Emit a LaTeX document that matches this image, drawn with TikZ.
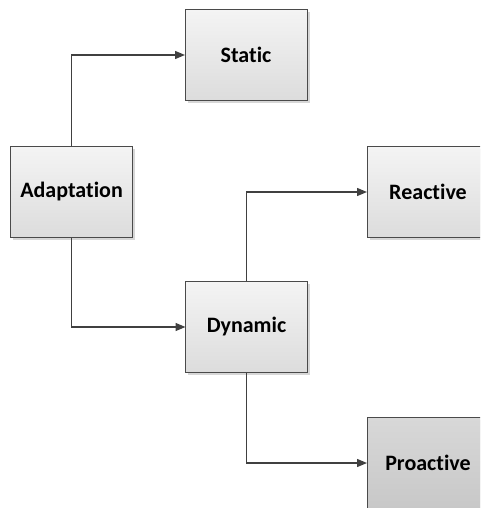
\documentclass[tikz,border=0pt]{standalone}
\usepackage{fontspec}
\setmainfont{Carlito}[Ligatures={NoCommon,NoContextual}]
\usetikzlibrary{arrows.meta,shadows}

\definecolor{boxline}{HTML}{4A4A4A}
\definecolor{boxtop}{HTML}{F4F4F4}
\definecolor{boxbottom}{HTML}{DCDCDC}
\definecolor{darktop}{HTML}{D8D8D8}
\definecolor{darkbottom}{HTML}{C8C8C8}
\definecolor{wire}{HTML}{404040}

\tikzset{
  x=1pt, y=-1pt,
  block/.style={
    draw=boxline, line width=1pt,
    minimum width=122pt, minimum height=91.5pt,
    inner sep=0pt, outer sep=0pt,
    top color=boxtop, bottom color=boxbottom,
    font=\fontsize{22}{26}\selectfont\bfseries,
    drop shadow={shadow xshift=2.5pt, shadow yshift=-2.5pt, opacity=0.35, fill=black!45}
  },
  darkblock/.style={block, top color=darktop, bottom color=darkbottom},
  link/.style={draw=wire, line width=1.3pt, -{Triangle[length=10pt,width=8pt]}}
}

\begin{document}
\begin{tikzpicture}
  \useasboundingbox (0,0) rectangle (480,508);
  \clip (0,0) rectangle (480,508);

  % the five blocks
  \node[block]     (static)  at (246,55)    {Static};
  \node[block]     (adapt)   at (71.5,192)  {Adaptation};
  \node[block]     (reactive) at (428,192)  {Reactive};
  \node[block]     (dynamic) at (246.5,327) {Dynamic};
  \node[darkblock] (proactive) at (428,463) {Proactive};

  % orthogonal connectors
  \draw[link] (adapt.north)   |- (static.west);
  \draw[link] (adapt.south)   |- (dynamic.west);
  \draw[link] (dynamic.north) |- (reactive.west);
  \draw[link] (dynamic.south) |- (proactive.west);
\end{tikzpicture}
\end{document}
